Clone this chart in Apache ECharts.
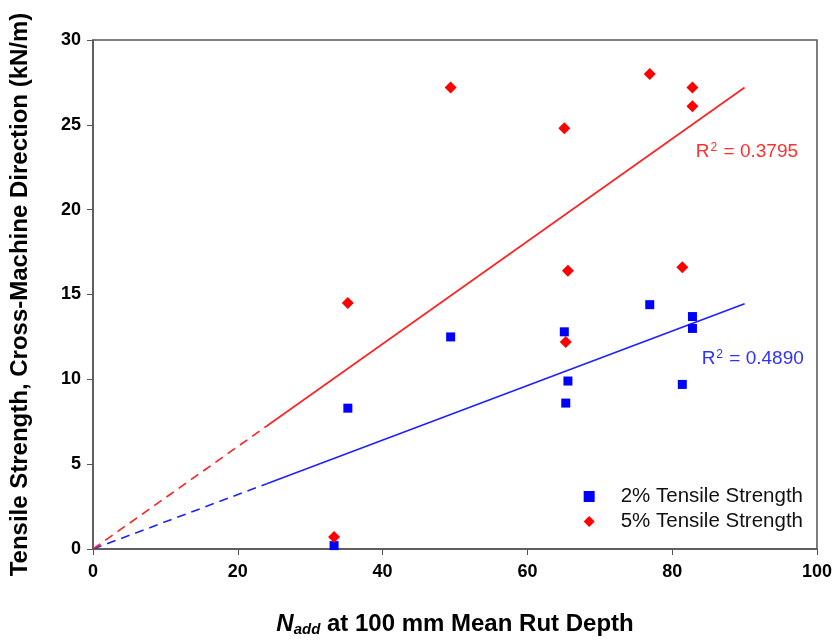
<!DOCTYPE html>
<html><head><meta charset="utf-8">
<script src="https://cdn.jsdelivr.net/npm/echarts@6/dist/echarts.min.js"></script>
<style>html,body{margin:0;padding:0;background:#fff}#c{width:835px;height:642px}</style>
</head><body><div id="c"></div>
<script>
// Data
const nadd2 = [33.3, 35.2, 49.4, 65.1, 65.6, 65.3, 76.9, 81.4, 82.8, 82.8];
const ts2   = [0.2, 8.3, 12.5, 12.8, 9.9, 8.6, 14.4, 9.7, 13.7, 13.0];
const nadd5 = [33.3, 35.2, 49.4, 65.1, 65.6, 65.3, 76.9, 81.4, 82.8, 82.8];
const ts5   = [0.7, 14.5, 27.2, 24.8, 16.4, 12.2, 28.0, 16.6, 27.2, 26.1];
// trend lines through origin: [x, y] endpoints, dashed part then solid part
const trend2Dashed = [[0, 0], [24, 3.85]];
const trend2Solid  = [[24, 3.85], [90, 14.45]];
const trend5Dashed = [[0, 0], [24, 7.25]];
const trend5Solid  = [[24, 7.25], [90, 27.2]];
const r2Label2 = {text: '0.4890', at: [84.0, 11.2]};
const r2Label5 = {text: '0.3795', at: [83.2, 23.4]};
const xTicks = [0, 20, 40, 60, 80, 100];
const yTicks = [0, 5, 10, 15, 20, 25, 30];

const chart = echarts.init(document.getElementById('c'));
const zip = (a, b) => a.map((v, i) => [v, b[i]]);
const blue = '#0000ff', red = '#ff0000';
const font = 'Arial, "Liberation Sans", sans-serif';
function r2Point(lbl, color) {
  return {
    symbol: 'circle', symbolSize: 1, silent: true, itemStyle: {color: 'rgba(0,0,0,0)'},
    data: [{coord: lbl.at, value: lbl.text}],
    label: {show: true, position: 'right', distance: 0, formatter: '{a|R}{s|2}{a| = ' + lbl.text + '}',
      rich: {a: {fontSize: 19, color: color, fontFamily: font}, s: {fontSize: 12, color: color, fontFamily: font, verticalAlign: 'top', padding: [0, 1, 9, 1]}}}
  };
}
chart.setOption({
  animation: false,
  grid: {left: 93, right: 14, top: 40, bottom: 93, show: true, borderColor: '#555', borderWidth: 1.5},
  legend: {
    right: 27, bottom: 105, orient: 'vertical', itemGap: 4, itemWidth: 11, itemHeight: 11,
    textStyle: {fontSize: 20.5, lineHeight: 20, fontFamily: font, color: '#111', padding: [0, 0, 0, 21]},
    data: [{name: '2% Tensile Strength', icon: 'rect', itemStyle: {color: blue}}, {name: '5% Tensile Strength', icon: 'diamond', itemStyle: {color: red}}]
  },
  xAxis: {
    type: 'value', min: xTicks[0], max: xTicks[xTicks.length - 1], interval: 20,
    axisLine: {lineStyle: {color: '#555', width: 1.5}},
    axisTick: {show: true, length: 6, lineStyle: {color: '#555'}},
    splitLine: {show: false},
    axisLabel: {fontSize: 18, fontWeight: 'bold', color: '#000', fontFamily: font, margin: 14},
    name: '{i|N}{s|add}{b| at 100 mm Mean Rut Depth}', nameLocation: 'middle', nameGap: 63,
    nameTextStyle: {rich: {
      i: {fontSize: 24, fontWeight: 'bold', fontStyle: 'italic', color: '#000', fontFamily: font},
      s: {fontSize: 15, fontWeight: 'bold', fontStyle: 'italic', color: '#000', fontFamily: font, verticalAlign: 'bottom', padding: [10, 0, 0, 0]},
      b: {fontSize: 24, fontWeight: 'bold', color: '#000', fontFamily: font}}}
  },
  yAxis: {
    type: 'value', min: yTicks[0], max: yTicks[yTicks.length - 1], interval: 5,
    axisLine: {lineStyle: {color: '#555', width: 1.5}},
    axisTick: {show: true, length: 6, lineStyle: {color: '#555'}},
    splitLine: {show: false},
    axisLabel: {fontSize: 18, fontWeight: 'bold', color: '#000', fontFamily: font, margin: 12},
    name: 'Tensile Strength, Cross-Machine Direction (kN/m)', nameLocation: 'middle', nameGap: 61,
    nameTextStyle: {fontSize: 24, fontWeight: 'bold', color: '#000', fontFamily: font}
  },
  series: [
    {name: '2% Tensile Strength', type: 'scatter', symbol: 'rect', symbolSize: 9, itemStyle: {color: blue, opacity: 1}, data: zip(nadd2, ts2), z: 5},
    {name: '5% Tensile Strength', type: 'scatter', symbol: 'diamond', symbolSize: 12, itemStyle: {color: red, opacity: 1}, data: zip(nadd5, ts5), z: 5},
    {type: 'line', data: trend2Dashed, symbol: 'none', lineStyle: {color: '#2020ff', width: 1.6, type: [9, 6]}},
    {type: 'line', data: trend2Solid, symbol: 'none', lineStyle: {color: '#2020ff', width: 1.6}, markPoint: r2Point(r2Label2, '#3030ff')},
    {type: 'line', data: trend5Dashed, symbol: 'none', lineStyle: {color: '#ff2020', width: 1.6, type: [9, 6]}},
    {type: 'line', data: trend5Solid, symbol: 'none', lineStyle: {color: '#ff2020', width: 1.6}, markPoint: r2Point(r2Label5, '#ff3030')}
  ]
});
</script></body></html>
